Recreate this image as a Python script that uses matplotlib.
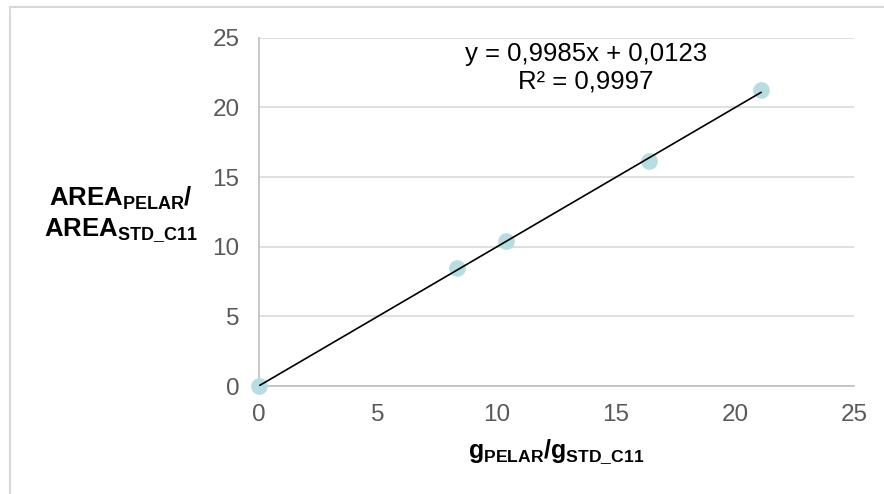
import matplotlib
matplotlib.use("Agg")
import matplotlib.pyplot as plt
from matplotlib.patches import Rectangle
import numpy as np

plt.rcParams['font.family'] = ['Liberation Sans', 'DejaVu Sans']
plt.rcParams['mathtext.fontset'] = 'custom'
plt.rcParams['mathtext.rm'] = 'Liberation Sans'
plt.rcParams['mathtext.bf'] = 'Liberation Sans:bold'

# data
g_ratio = [0.0, 8.34, 10.38, 16.37, 21.09]
area_ratio = [0.0, 8.44, 10.43, 16.15, 21.24]
slope = 0.9985
intercept = 0.0123
r2 = 0.9997
ticks = [0, 5, 10, 15, 20, 25]

fig = plt.figure(figsize=(8.84, 4.94), dpi=100)
fig.patches.append(Rectangle((10 / 884, -0.1), 1.2, 1 - 7 / 494 + 0.1,
                             transform=fig.transFigure, fill=False,
                             edgecolor='#d9d9d9', linewidth=1.5))

ax = fig.add_axes([259 / 884, 1 - 386 / 494, (854 - 259) / 884, (386 - 37.7) / 494])
ax.set_xlim(0, 25)
ax.set_ylim(0, 25)
ax.set_xticks(ticks)
ax.set_yticks(ticks)
ax.grid(axis='y', color='#d9d9d9', linewidth=1.2)
ax.set_axisbelow(True)
for side in ['top', 'right']:
    ax.spines[side].set_visible(False)
for side in ['left', 'bottom']:
    ax.spines[side].set_color('#bfbfbf')
    ax.spines[side].set_linewidth(1.2)
ax.tick_params(length=0, labelsize=17.5, labelcolor='#595959')
ax.tick_params(axis='x', pad=13)
ax.tick_params(axis='y', pad=14)

ax.plot(g_ratio, area_ratio, 'o', color='#b6dde2', markersize=11, clip_on=False, zorder=3)
xl = np.array([0, max(g_ratio)])
ax.plot(xl, slope * xl + intercept, color='black', linewidth=1.2, zorder=4)

eq = 'y = {:.4f}x + {:.4f}\nR² = {:.4f}'.format(slope, intercept, r2).replace('.', ',')
fig.text(586 / 884, 1 - 68 / 494, eq, ha='center', va='center', fontsize=18.5,
         multialignment='center', linespacing=1.2)

fig.text(121 / 884, 1 - 214 / 494,
         r'$\mathbf{AREA_{PELAR}/}$' + '\n' + r'$\mathbf{AREA_{STD\_C11}}$',
         ha='center', va='center', fontsize=18.5, multialignment='center')
fig.text(556 / 884, 1 - 452 / 494, r'$\mathbf{g_{PELAR}/g_{STD\_C11}}$',
         ha='center', va='center', fontsize=18)

fig.savefig('out.png', dpi=100)
